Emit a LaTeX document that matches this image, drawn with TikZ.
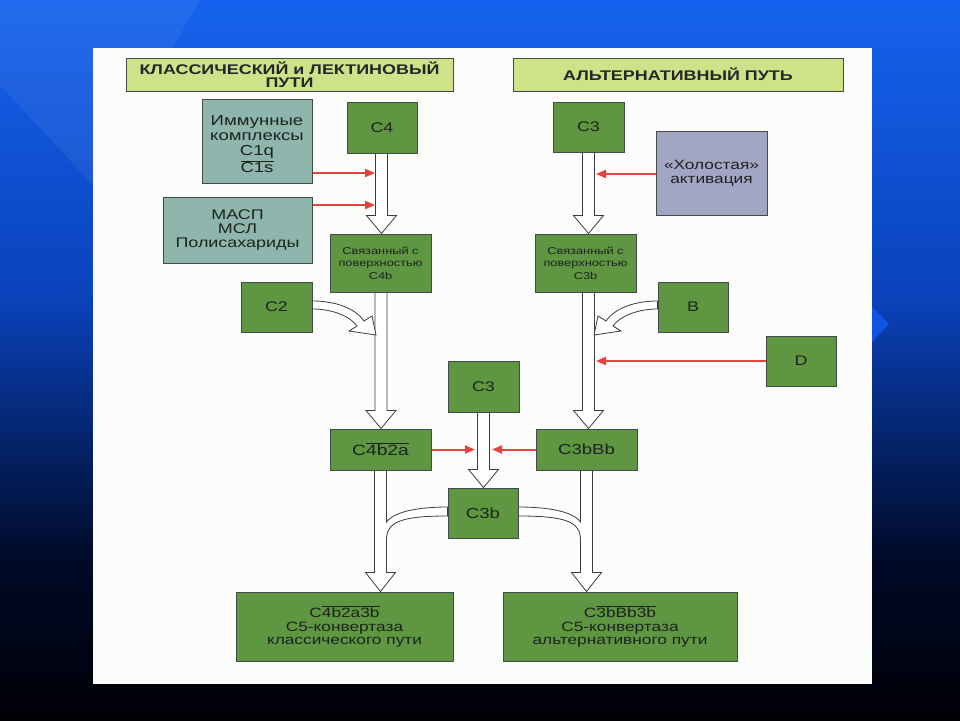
\documentclass[tikz,border=0pt]{standalone}
\usepackage{fontspec}
\setmainfont[FakeStretch=1.28]{Liberation Sans}
\usetikzlibrary{arrows.meta,calc}
\pgfdeclarelayer{back}
\pgfdeclarelayer{arr}
\pgfsetlayers{back,arr,main}
\definecolor{gfill}{RGB}{94,150,66}
\definecolor{hfill}{RGB}{206,226,138}
\definecolor{tfill}{RGB}{142,182,172}
\definecolor{lfill}{RGB}{162,166,196}
\definecolor{boxline}{RGB}{66,74,74}
\definecolor{arrline}{RGB}{60,60,60}
\definecolor{txt}{RGB}{30,34,30}
\definecolor{redc}{RGB}{232,66,62}
\definecolor{bgA}{RGB}{22,98,238}
\definecolor{bgB}{RGB}{10,66,186}
\definecolor{bgC}{RGB}{0,10,40}
\definecolor{bgD}{RGB}{0,0,6}
\definecolor{panel}{RGB}{252,252,250}
\definecolor{tri}{RGB}{18,84,226}
\newcommand\ovl[1]{\ensuremath{\overline{\mbox{#1}}}}
\newcommand\fsz[2]{\fontsize{#1}{#2}\selectfont}
\newcommand\blockdown[3]{%
  \draw[blk] let \p1=(#1.south), \p2=(#2.north), \p3=(#3,0) in
    (\x3-6pt,\y1) -- (\x3-6pt,\y2+18pt) -- (\x3-15pt,\y2+18pt) -- (\x3,\y2)
    -- (\x3+15pt,\y2+18pt) -- (\x3+6pt,\y2+18pt) -- (\x3+6pt,\y1) -- cycle;}
\begin{document}
\begin{tikzpicture}[x=1pt,y=-1pt,
  box/.style={draw=boxline, line width=1pt, inner sep=0pt, align=center, text=txt},
  gbox/.style={box, fill=gfill},
  hdr/.style={box, fill=hfill, font=\bfseries\fsz{14}{13}, text=black!85},
  tbox/.style={box, fill=tfill},
  lbox/.style={box, fill=lfill},
  lbl/.style={inner sep=0pt, align=center, text=txt},
  blk/.style={draw=arrline, line width=0.8pt, fill=white, line join=miter},
  redarr/.style={draw=redc, line width=2pt, -{Triangle[length=10pt,width=8pt]}}]
\useasboundingbox (0,0) rectangle (960,720);
\begin{pgfonlayer}{back}
  \shade[top color=bgA, bottom color=bgB] (0,0) rectangle (960,300);
  \shade[top color=bgB, bottom color=bgC] (0,300) rectangle (960,560);
  \shade[top color=bgC, bottom color=bgD] (0,560) rectangle (960,720);
  \fill[white, opacity=0.06] (0,0) -- (200,0) -- (93,185) -- (0,85) -- cycle;
  \fill[tri] (872,307) -- (889,324) -- (872,342) -- cycle;
  \fill[panel] (93,48) rectangle (872,684);
\end{pgfonlayer}

% headers
\node[hdr, minimum width=327, minimum height=33] (h1) at (289.5,74.5) {КЛАССИЧЕСКИЙ и ЛЕКТИНОВЫЙ\\ПУТИ};
\node[hdr, minimum width=330, minimum height=33] (h2) at (678,74.5) {АЛЬТЕРНАТИВНЫЙ ПУТЬ};

% left column
\node[tbox, minimum width=110, minimum height=84] (imm) at (257,141) {};
\node[lbl, font=\fsz{14.5}{15}] at ([yshift=-3pt]imm.center) {Иммунные\\комплексы\\C1q\\[1pt]\ovl{C1s}};
\node[tbox, minimum width=149, minimum height=66, font=\fsz{14}{14}] (masp) at (237.5,230) {МАСП\\МСЛ\\Полисахариды};
\node[gbox, minimum width=70, minimum height=51, font=\fsz{14}{14}] (c4) at (382,127.5) {C4};
\node[gbox, minimum width=101, minimum height=58, font=\fsz{10}{12.5}] (s4) at (380.5,263) {Связанный с\\поверхностью\\C4b};
\node[gbox, minimum width=71, minimum height=50, font=\fsz{14}{14}] (c2) at (276.5,307) {C2};
\node[gbox, minimum width=101, minimum height=41, font=\fsz{15}{15}] (c4b2a) at (380.5,449.5) {C\ovl{4b2a}};

% right column
\node[gbox, minimum width=71, minimum height=50, font=\fsz{14}{14}] (c3t) at (588.5,127) {C3};
\node[lbox, minimum width=111, minimum height=84, font=\fsz{13.5}{13.5}] (idle) at (711.5,173) {«Холостая»\\активация};
\node[gbox, minimum width=101, minimum height=58, font=\fsz{10}{12.5}] (s3) at (585.5,263) {Связанный с\\поверхностью\\C3b};
\node[gbox, minimum width=70, minimum height=50, font=\fsz{14}{14}] (b) at (693,307) {B};
\node[gbox, minimum width=70, minimum height=50, font=\fsz{14}{14}] (d) at (801,361) {D};
\node[gbox, minimum width=101, minimum height=41, font=\fsz{14.5}{15}] (c3bbb) at (586.5,449.5) {C3bBb};

% middle
\node[gbox, minimum width=71, minimum height=51, font=\fsz{14}{14}] (c3m) at (483.5,386.5) {C3};
\node[gbox, minimum width=70, minimum height=50, font=\fsz{14.5}{15}] (c3b) at (483,513) {C3b};

% bottom
\node[gbox, minimum width=217, minimum height=69, font=\fsz{13.5}{13.5}] (bl) at (344.5,626.5) {C\ovl{4b2a3b}\\C5-конвертаза\\классического пути};
\node[gbox, minimum width=234, minimum height=69, font=\fsz{13.5}{13.5}] (br) at (620,626.5) {C\ovl{3bBb3b}\\C5-конвертаза\\альтернативного пути};

% arrow targets
\coordinate (t1) at (375,173);
\coordinate (t2) at (375,205);
\coordinate (t3) at (596,174);
\coordinate (t4) at (596,361);
\coordinate (t5) at (475,449.5);
\coordinate (t6) at (492,449.5);
\coordinate (j2) at (376,335);
\coordinate (jb) at (594,335);

\begin{pgfonlayer}{arr}
  \blockdown{c4}{s4}{381.5}
  \blockdown{s4}{c4b2a}{381}
  \blockdown{c3t}{s3}{588.5}
  \blockdown{s3}{c3bbb}{588.5}
  \blockdown{c3m}{c3b}{483.5}
  % C2 curved arrow
  \draw[blk] ([yshift=6pt]c2.east) .. controls (335,301) and (355,308) .. (364,321)
     -- (372,316) -- (j2) -- (349,331) -- (357,326)
     .. controls (350,316) and (332,309) .. ([yshift=-2pt]c2.east) -- cycle;
  % B curved arrow
  \draw[blk] ([yshift=6pt]b.west) .. controls (635,301) and (615,308) .. (606,321)
     -- (598,316) -- (jb) -- (621,331) -- (613,326)
     .. controls (620,316) and (638,309) .. ([yshift=-2pt]b.west) -- cycle;
  % left fork
  \draw[blk] let \p1=(c4b2a.south), \p2=(bl.north), \p3=(c3b.west) in
    (\x1-6pt,\y1) -- (\x1-6pt,\y2+19pt) -- (\x1-15pt,\y2+19pt) -- (\x1,\y2)
    -- (\x1+15pt,\y2+19pt) -- (\x1+6pt,\y2+19pt) -- (\x1+6pt,\y3-27pt)
    .. controls (\x1+6pt,\y3-9pt) and (\x1+20pt,\y3-3pt) .. (\x3,\y3-3pt)
    -- (\x3,\y3+6pt)
    .. controls (\x1+40pt,\y3+6pt) and (\x1+14pt,\y3+2pt) .. (\x1+6pt,\y3-9pt)
    -- (\x1+6pt,\y1) -- cycle;
  % right fork
  \draw[blk] let \p1=(c3bbb.south), \p2=(br.north), \p3=(c3b.east) in
    (\x1+6pt,\y1) -- (\x1+6pt,\y2+19pt) -- (\x1+15pt,\y2+19pt) -- (\x1,\y2)
    -- (\x1-15pt,\y2+19pt) -- (\x1-6pt,\y2+19pt) -- (\x1-6pt,\y3-27pt)
    .. controls (\x1-6pt,\y3-9pt) and (\x1-20pt,\y3-3pt) .. (\x3,\y3-3pt)
    -- (\x3,\y3+6pt)
    .. controls (\x1-40pt,\y3+6pt) and (\x1-14pt,\y3+2pt) .. (\x1-6pt,\y3-9pt)
    -- (\x1-6pt,\y1) -- cycle;
  % red arrows
  \draw[redarr] ([yshift=-32pt]imm.east) -- (t1);
  \draw[redarr] ([yshift=25pt]masp.east) -- (t2);
  \draw[redarr] ([yshift=-1pt]idle.west) -- (t3);
  \draw[redarr] (d.west) -- (t4);
  \draw[redarr] (c4b2a.east) -- (t5);
  \draw[redarr] (c3bbb.west) -- (t6);
\end{pgfonlayer}
\end{tikzpicture}
\end{document}
